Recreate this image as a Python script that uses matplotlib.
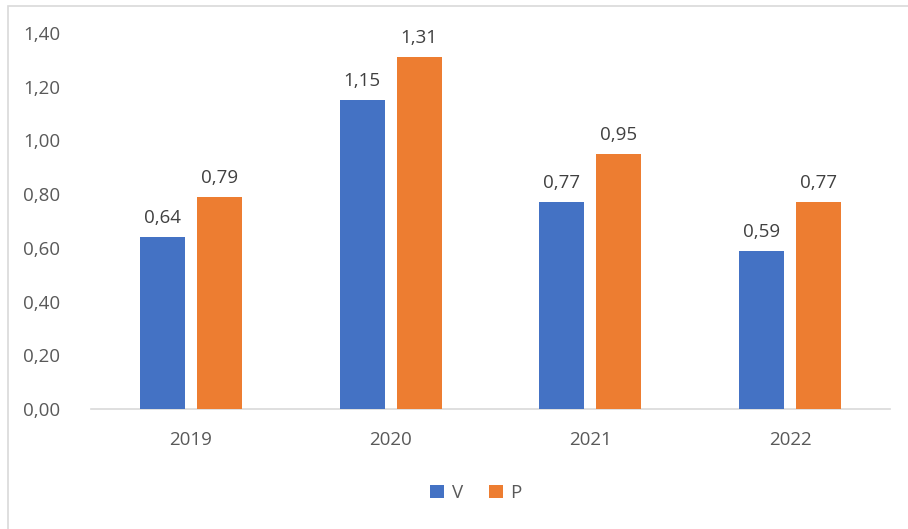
import matplotlib.pyplot as plt
from matplotlib.patches import Rectangle
import numpy as np

years = ['2019', '2020', '2021', '2022']
v_vals = [0.64, 1.15, 0.77, 0.59]
p_vals = [0.79, 1.31, 0.95, 0.77]
yticks = [0.0, 0.2, 0.4, 0.6, 0.8, 1.0, 1.2, 1.4]

blue = '#4472C4'
orange = '#ED7D31'
txt = '#595959'

plt.rcParams['font.family'] = ['Open Sans', 'DejaVu Sans']

fig = plt.figure(figsize=(9.08, 5.29), dpi=100)
fig.patches.append(Rectangle((8 / 908, -0.05), 1.1, 1.05 - 6 / 529,
                             transform=fig.transFigure, fill=False,
                             edgecolor='#D9D9D9', linewidth=1.2))

ax = fig.add_axes([91 / 908, 1 - 409 / 529, 799 / 908, (409 - 33) / 529])
x = np.arange(len(years))
w = 0.225
off = 0.1425
b1 = ax.bar(x - off, v_vals, w, color=blue, label='V', zorder=3)
b2 = ax.bar(x + off, p_vals, w, color=orange, label='P', zorder=3)

for bars in (b1, b2):
    for b in bars:
        ax.annotate('{:.2f}'.format(b.get_height()).replace('.', ','),
                    (b.get_x() + b.get_width() / 2, b.get_height()),
                    xytext=(0, 7), textcoords='offset points',
                    ha='center', va='bottom', fontsize=13.5, color='#404040')

ax.set_xlim(-0.5, 3.5)
ax.set_ylim(0, 1.4)
ax.set_yticks(yticks)
ax.set_yticklabels(['{:.2f}'.format(t).replace('.', ',') for t in yticks])
ax.set_xticks(x)
ax.set_xticklabels(years)
ax.tick_params(axis='both', length=0, labelsize=13.5, colors=txt)
ax.tick_params(axis='x', pad=16)
ax.tick_params(axis='y', pad=22)
for s in ['top', 'right', 'left']:
    ax.spines[s].set_visible(False)
ax.spines['bottom'].set_color('#D9D9D9')
ax.spines['bottom'].set_linewidth(1.2)

fig.legend(loc='center', bbox_to_anchor=(476 / 908, 1 - 493 / 529), ncol=2,
           frameon=False, fontsize=13.5, labelcolor=txt, handlelength=0.75,
           handleheight=0.75, handletextpad=0.4, columnspacing=1.4)

fig.savefig('out.png', dpi=100)
